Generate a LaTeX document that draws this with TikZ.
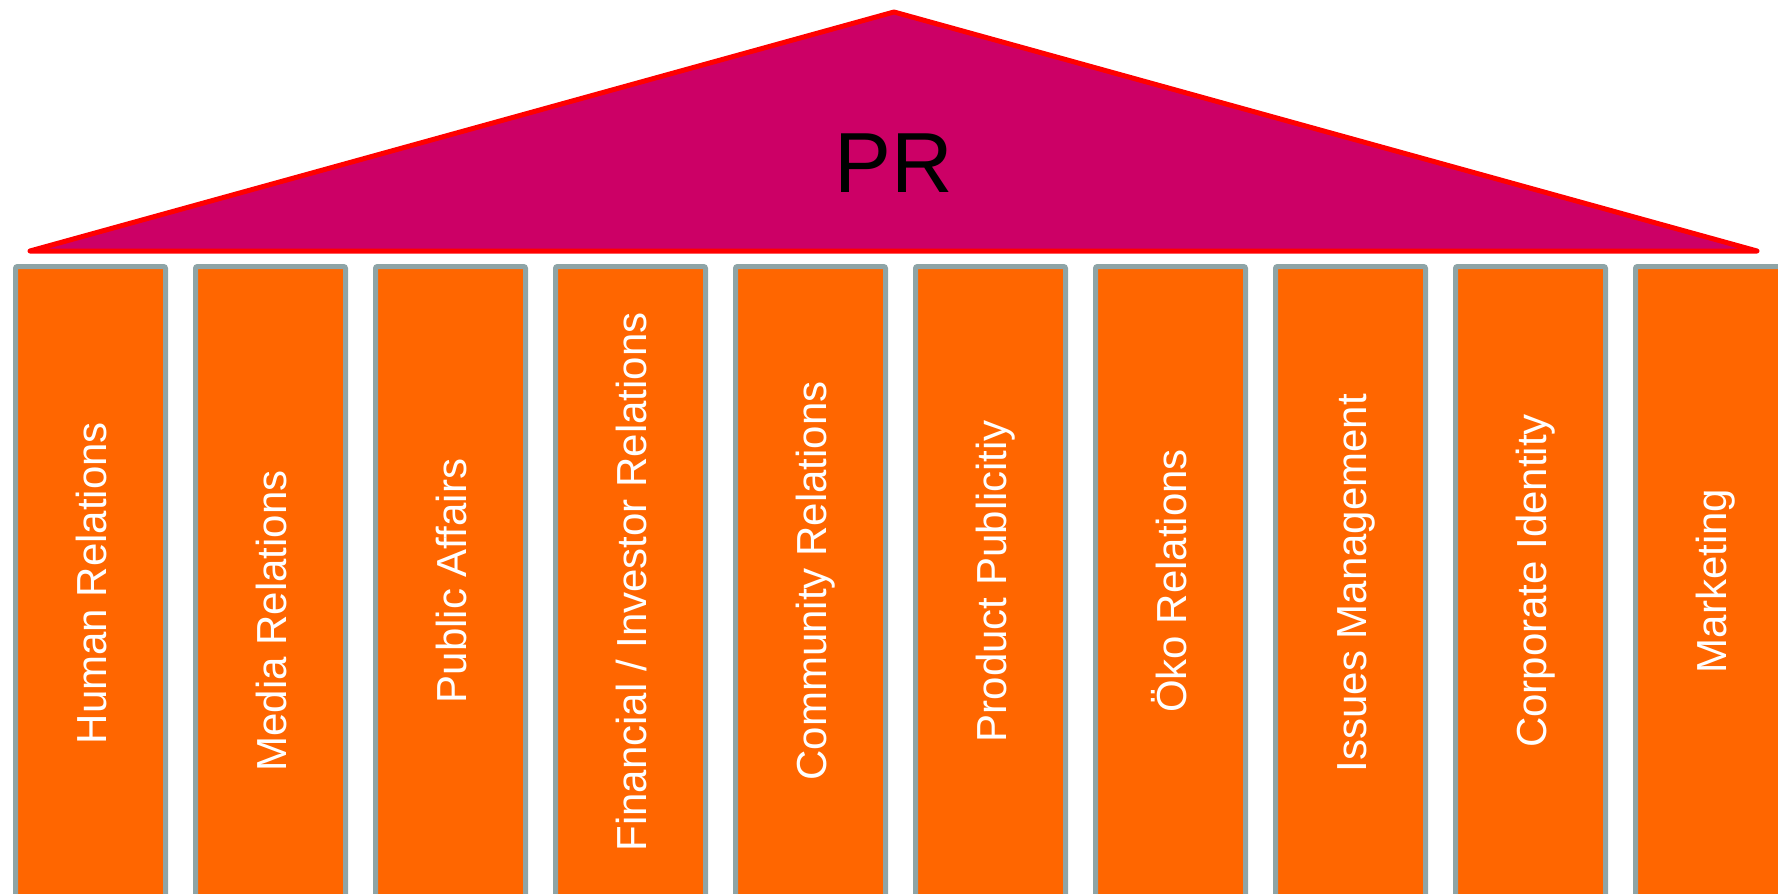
\documentclass[tikz,border=0pt]{standalone}
\usepackage{fontspec}
\setmainfont{Liberation Sans}
\definecolor{roofred}{HTML}{FF0000}
\definecolor{roofpink}{HTML}{CC0066}
\definecolor{pillarorange}{HTML}{FF6600}
\definecolor{pillargray}{HTML}{8EA4A6}
\begin{document}
\begin{tikzpicture}[x=0.75pt,y=-0.75pt,
  roofshape/.style={draw=roofred,fill=roofpink,line width=3.75pt,line join=round},
  pillar/.style={draw=pillargray,fill=pillarorange,line width=3.75pt,rounded corners=1.5pt},
  pillartext/.style={rotate=90,anchor=base,text=white,inner sep=0pt,
    font=\fontsize{31.5}{36}\selectfont}]
\clip (0,0) rectangle (1778,893);
\draw [roofshape] (30,251) -- (894,12) -- (1757,251) -- cycle;
\node [font=\fontsize{64}{72}\selectfont] (pr) at (894,163) {PR};
\draw [pillar] (15.5,266.5) rectangle (165.5,1000);
\draw [pillar] (195.5,266.5) rectangle (345.5,1000);
\draw [pillar] (375.5,266.5) rectangle (525.5,1000);
\draw [pillar] (555.5,266.5) rectangle (705.5,1000);
\draw [pillar] (735.5,266.5) rectangle (885.5,1000);
\draw [pillar] (915.5,266.5) rectangle (1065.5,1000);
\draw [pillar] (1095.5,266.5) rectangle (1245.5,1000);
\draw [pillar] (1275.5,266.5) rectangle (1425.5,1000);
\draw [pillar] (1455.5,266.5) rectangle (1605.5,1000);
\draw [pillar] (1635.5,266.5) rectangle (1785.5,1000);
\node [pillartext] (human) at (106.5,583) {Human Relations};
\node [pillartext] (media) at (286.5,621) {Media Relations};
\node [pillartext] (public) at (466.5,581) {Public Affairs};
\node [pillartext] (financial) at (646.5,582) {Financial / Investor Relations};
\node [pillartext] (community) at (826.5,581) {Community Relations};
\node [pillartext] (product) at (1006.5,581) {Product Publicitiy};
\node [pillartext] (oeko) at (1186.5,581) {Öko Relations};
\node [pillartext] (issues) at (1366.5,583) {Issues Management};
\node [pillartext] (corporate) at (1546.5,581) {Corporate Identity};
\node [pillartext] (marketing) at (1726.5,581) {Marketing};
\end{tikzpicture}
\end{document}
